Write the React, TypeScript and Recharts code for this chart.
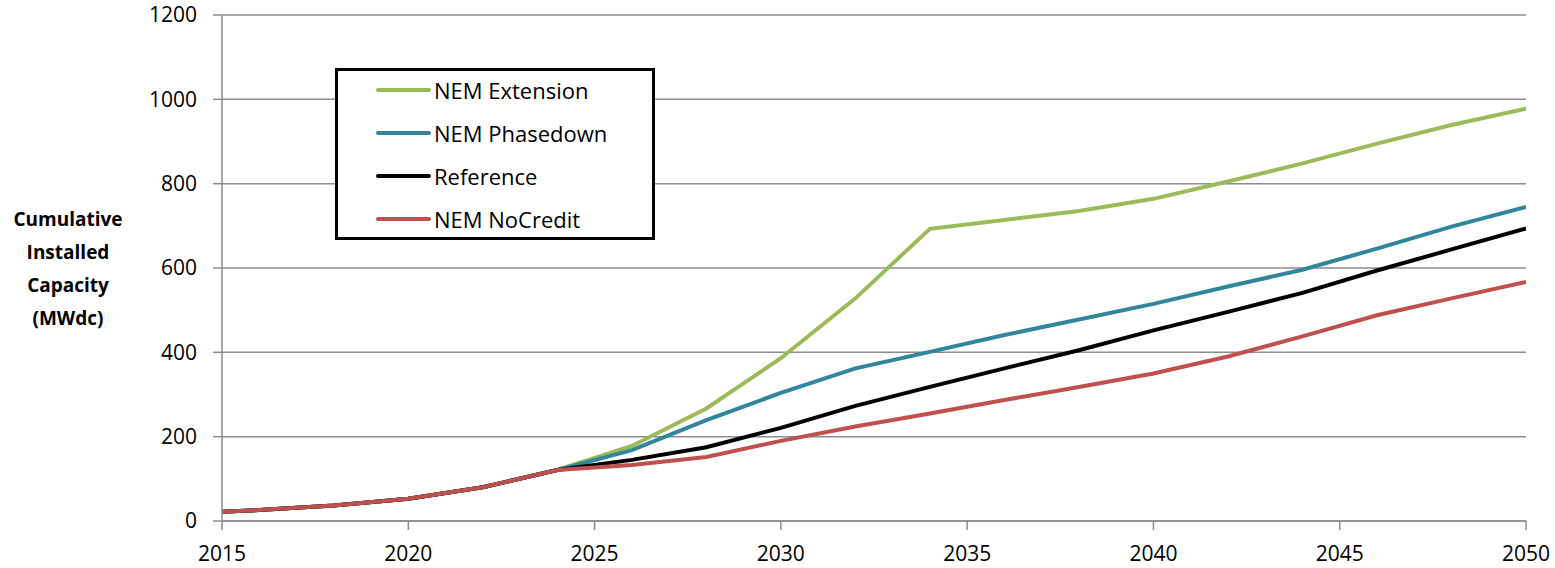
import React from "react";
import { LineChart, Line, XAxis, YAxis, CartesianGrid, Legend } from "recharts";

const years = [2015, 2016, 2018, 2020, 2022, 2024, 2026, 2028, 2030, 2032, 2034, 2036, 2038, 2040, 2042, 2044, 2046, 2048, 2050];
const nemExtension = [22, 26, 37, 53, 80, 121, 178, 267, 386, 528, 693, 714, 735, 764, 805, 848, 895, 939, 978];
const nemPhasedown = [22, 26, 37, 53, 80, 121, 168, 239, 304, 362, 401, 441, 478, 515, 556, 596, 646, 698, 745];
const reference = [22, 26, 37, 53, 80, 121, 145, 175, 221, 273, 318, 362, 405, 452, 496, 541, 594, 644, 694];
const nemNoCredit = [22, 26, 37, 53, 80, 121, 133, 152, 190, 224, 255, 287, 318, 350, 390, 438, 488, 528, 567];

const xTicks = [2015, 2020, 2025, 2030, 2035, 2040, 2045, 2050];
const yTicks = [0, 200, 400, 600, 800, 1000, 1200];

const seriesNames = ["NEM Extension", "NEM Phasedown", "Reference", "NEM NoCredit"];
const seriesColors = ["#9BBB59", "#31859C", "#000000", "#C0504D"];
const seriesKeys = ["ext", "phase", "ref", "nocredit"];

const data = years.map((y, i) => ({
  year: y,
  ext: nemExtension[i],
  phase: nemPhasedown[i],
  ref: reference[i],
  nocredit: nemNoCredit[i],
}));

const FONT = "'Open Sans', 'Liberation Sans', sans-serif";

const LegendBox = () => (
  <div
    style={{
      border: "3px solid #000",
      width: 314,
      height: 166,
      background: "#fff",
      boxSizing: "content-box",
      fontFamily: FONT,
      fontSize: 22,
      color: "#000",
      position: "relative",
    }}
  >
    {seriesNames.map((name, i) => (
      <div
        key={name}
        style={{ position: "absolute", left: 38, top: 4 + i * 43, height: 30, display: "flex", alignItems: "center" }}
      >
        <div style={{ width: 55, height: 4, background: seriesColors[i], borderRadius: 2, marginRight: 3 }} />
        <span>{name}</span>
      </div>
    ))}
  </div>
);

const YLabel = () => {
  const lines = ["Cumulative", "Installed", "Capacity", "(MWdc)"];
  return (
    <text x={68} y={220} textAnchor="middle" fontFamily={FONT} fontWeight="bold" fontSize={19} fill="#000">
      {lines.map((l, i) => (
        <tspan key={l} x={68} dy={i === 0 ? 6 : 33}>
          {l}
        </tspan>
      ))}
    </text>
  );
};

export default function App() {
  return (
    <div style={{ position: "absolute", left: 0, top: 0, width: 1555, height: 568, background: "#fff" }}>
      <LineChart width={1555} height={568} data={data} margin={{ top: 15, right: 29, bottom: 0, left: 0 }}>
        <CartesianGrid vertical={false} stroke="#8c8c8c" strokeWidth={1.5} />
        <XAxis
          dataKey="year"
          type="number"
          domain={[2015, 2050]}
          ticks={xTicks}
          height={47}
          tickSize={9}
          tickMargin={16}
          stroke="#8c8c8c"
          strokeWidth={1.5}
          tick={{ fill: "#000", fontFamily: FONT, fontSize: 21 }}
          allowDataOverflow
        />
        <YAxis
          domain={[0, 1200]}
          ticks={yTicks}
          width={222}
          tickSize={9}
          tickMargin={16}
          stroke="#8c8c8c"
          strokeWidth={1.5}
          tick={{ fill: "#000", fontFamily: FONT, fontSize: 21 }}
          label={{ content: () => <YLabel /> }}
        />
        <Legend
          layout="horizontal"
          verticalAlign="middle"
          align="center"
          content={() => <LegendBox />}
          wrapperStyle={{ position: "absolute", left: 335, top: 68, width: 320, height: 172 }}
        />
        {seriesKeys.map((k, i) => (
          <Line
            key={k}
            type="linear"
            dataKey={k}
            name={seriesNames[i]}
            stroke={seriesColors[i]}
            strokeWidth={4}
            dot={false}
            isAnimationActive={false}
          />
        ))}
      </LineChart>
    </div>
  );
}
